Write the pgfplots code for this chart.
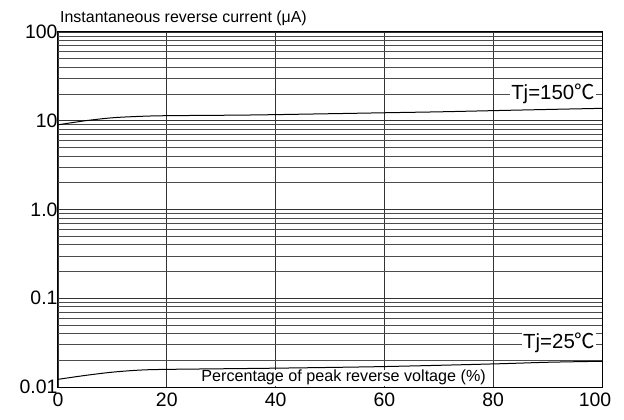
\documentclass[border=0pt]{standalone}
\usepackage{pgfplots}
\pgfplotsset{compat=1.18}
\usepackage{fontspec}
\setmainfont{Liberation Sans}
\newfontfamily\cjk{Noto Sans CJK SC}
\begin{document}
\begin{tikzpicture}
\begin{axis}[
  name=ax,
  scale only axis, width=544bp, height=355bp,
  xmin=0, xmax=100, ymode=log, ymin=0.01, ymax=100,
  xtick={0,20,40,60,80,100},
  xticklabels={0,20,40,60,80,100\kern14bp},
  ytick={0.01,0.1,1,10,100},
  yticklabels={0.01,0.1,1.0,10,100},
  minor ytick={0.02,0.03,0.04,0.05,0.06,0.07,0.08,0.09,
               0.2,0.3,0.4,0.5,0.6,0.7,0.8,0.9,
               2,3,4,5,6,7,8,9,
               20,30,40,50,60,70,80,90},
  /pgf/number format/assume math mode=true,
  major tick length=0, minor tick length=0,
  xmajorgrids, ymajorgrids, yminorgrids,
  grid style={black!80, line width=0.8bp},
  minor grid style={black!70, line width=0.8bp},
  axis line style={black, line width=1bp},
  tick label style={font=\fontsize{19.5}{22}\selectfont},
  xticklabel style={yshift=-2bp},
  yticklabel style={xshift=3bp},
  clip=false,
]
\addplot[black, line width=1bp, smooth] coordinates {
 (0,9.0) (5,10.0) (10,10.8) (15,11.2) (20,11.4) (35,11.6) (50,12.0)
 (60,12.3) (70,12.6) (80,13.0) (90,13.4) (100,13.8)};
\addplot[black, line width=1bp, smooth] coordinates {
 (0,0.0122) (5,0.0135) (10,0.0147) (15,0.0155) (20,0.0158) (40,0.0163)
 (60,0.0170) (80,0.0182) (90,0.0190) (100,0.0195)};
\node[fill=white, inner xsep=1bp, inner ysep=0.5bp, anchor=west,
  font=\fontsize{20.5}{24}\selectfont] at (axis cs:83.1,20.2) {Tj=150{\cjk ℃}};
\node[fill=white, inner xsep=1bp, inner ysep=0.5bp, anchor=west,
  font=\fontsize{20.5}{24}\selectfont] at (axis cs:85.3,0.0313) {Tj=25{\cjk ℃}};
\node[fill=white, inner xsep=2bp, inner ysep=0.5bp, anchor=south,
  font=\fontsize{16.2}{19}\selectfont] at (axis cs:52.5,0.01) [yshift=1bp] {Percentage of peak reverse voltage (\%)};
\node[inner sep=0pt, anchor=base west, font=\fontsize{16}{19}\selectfont]
  at (rel axis cs:0,1) [xshift=2bp, yshift=9bp] {Instantaneous reverse current (μA)};
\end{axis}
\pgfresetboundingbox
\useasboundingbox (ax.south west) ++(-58bp,-33bp) rectangle ++(624bp,420bp);
\end{tikzpicture}
\end{document}
